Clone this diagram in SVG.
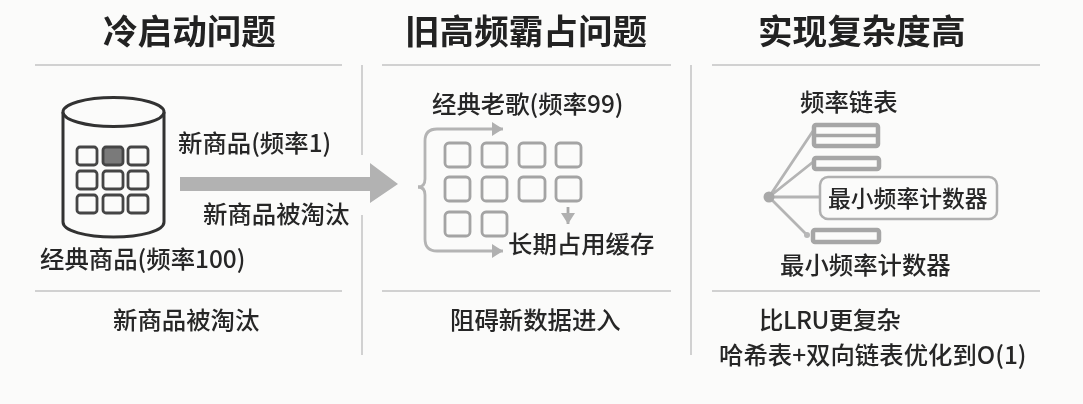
<svg xmlns="http://www.w3.org/2000/svg" width="1083" height="404" viewBox="0 0 1083 404">
<style>
text{font-family:"Noto Sans CJK SC","Noto Sans",sans-serif;fill:#262626;font-weight:500;font-size:24.4px}
.t{font-size:34.6px;font-weight:700;fill:#222}
.rule{stroke:#c4c4c4;stroke-width:1.5;fill:none}
.cell{fill:none;stroke:#454545;stroke-width:2.8}
.soft{fill:none;stroke:#a4a4a4;stroke-width:2.8}
.link{fill:none;stroke:#b4b4b4;stroke-width:2.8}
.bar{fill:#fbfbfa;stroke:#a6a6a6;stroke-width:4.500}
</style>
<defs>
<marker id="ah" markerUnits="userSpaceOnUse" markerWidth="12" markerHeight="14" refX="11" refY="7" orient="auto"><path d="M0 0L11 7L0 14Z" fill="#b0b0b0"/></marker>
<filter id="blur" x="0" y="0" width="100%" height="100%"><feGaussianBlur stdDeviation="0.45"/></filter>
</defs>
<rect width="1083" height="404" fill="#fbfbfa"/>
<g filter="url(#blur)">
<g id="rules">
<path class="rule" d="M35 65H342M382 65H671M712 65H1040M35 291H342M382 291H671M712 291H1040"/>
<path class="rule" d="M362 65V155M362 215V355M691 65V355"/>
</g>
<g id="connectors">
<path d="M180 177H370V163L398 184L370 203V191H180Z" fill="#b2b2b2"/>
<path class="link" marker-end="url(#ah)" d="M418 187Q425 187 425 179V141Q425 129 437 129H503"/>
<path class="link" marker-end="url(#ah)" d="M418 187Q425 187 425 195V239Q425 251 437 251H503"/>
<path class="link" style="stroke:#a8a8a8" marker-end="url(#ah)" d="M568 207V224"/>
<path class="link" d="M769 197L813 131M769 197L813 162M769 197H820M769 197L807 235"/>
</g>
<g id="title1"><text class="t" x="103" y="44">冷启动问题</text></g>
<g id="title2"><text class="t" x="405" y="44">旧高频霸占问题</text></g>
<g id="title3"><text class="t" x="758" y="44">实现复杂度高</text></g>
<g id="cache">
<path d="M63 112V222C63 231 86 237 113.500 237S164 231 164 222V112" fill="#fbfbfa" stroke="#333" stroke-width="3"/>
<ellipse cx="113.500" cy="112" rx="50.500" ry="14.500" fill="#fbfbfa" stroke="#333" stroke-width="3"/>
<rect class="cell" x="77" y="147" width="20" height="18" rx="3"/>
<rect class="cell" x="103" y="147" width="20" height="18" rx="3" style="fill:#7a7a7a"/>
<rect class="cell" x="128" y="147" width="20" height="18" rx="3"/>
<rect class="cell" x="77" y="171" width="20" height="18" rx="3"/>
<rect class="cell" x="103" y="171" width="20" height="18" rx="3"/>
<rect class="cell" x="128" y="171" width="20" height="18" rx="3"/>
<rect class="cell" x="77" y="195" width="20" height="18" rx="3"/>
<rect class="cell" x="103" y="195" width="20" height="18" rx="3"/>
<rect class="cell" x="128" y="195" width="20" height="18" rx="3"/>
</g>
<g id="labels1">
<text x="178" y="152">新商品(频率1)</text>
<text x="203" y="223">新商品被淘汰</text>
<text x="40" y="268">经典商品(频率100)</text>
<text x="113" y="329">新商品被淘汰</text>
</g>
<g id="grid">
<rect class="soft" x="445" y="143" width="25" height="24" rx="4"/>
<rect class="soft" x="482" y="143" width="25" height="24" rx="4"/>
<rect class="soft" x="519" y="143" width="26" height="24" rx="4"/>
<rect class="soft" x="556" y="143" width="25" height="24" rx="4"/>
<rect class="soft" x="445" y="177" width="25" height="24" rx="4"/>
<rect class="soft" x="482" y="177" width="25" height="24" rx="4"/>
<rect class="soft" x="519" y="177" width="26" height="24" rx="4"/>
<rect class="soft" x="556" y="177" width="25" height="24" rx="4"/>
<rect class="soft" x="445" y="212" width="25" height="24" rx="4"/>
<rect class="soft" x="482" y="212" width="25" height="24" rx="4"/>
</g>
<g id="labels2">
<text x="432" y="113">经典老歌(频率99)</text>
<text x="508" y="253">长期占用缓存</text>
<text x="450" y="329">阻碍新数据进入</text>
</g>
<g id="freq">
<circle cx="769" cy="197" r="5.500" fill="#a8a8a8"/>
<circle cx="807" cy="235" r="3" fill="#b8b8b8"/>
<rect class="bar" x="814" y="125" width="64" height="21" rx="2"/>
<path d="M814 135.500H878" stroke="#a6a6a6" stroke-width="3.500"/>
<rect class="bar" x="814" y="158" width="65" height="11" rx="2"/>
<rect x="820" y="177" width="177" height="42" rx="8" fill="#fbfbfa" stroke="#b0b0b0" stroke-width="2.500"/>
<rect class="bar" x="813" y="230" width="66" height="12" rx="2"/>
</g>
<g id="labels3">
<text x="800" y="111">频率链表</text>
<text x="828" y="207" style="font-size:22.8px">最小频率计数器</text>
<text x="780" y="274">最小频率计数器</text>
<text x="759" y="329" textLength="142">比LRU更复杂</text>
<text x="719" y="364">哈希表+双向链表优化到O(1)</text>
</g>
</g>
</svg>
